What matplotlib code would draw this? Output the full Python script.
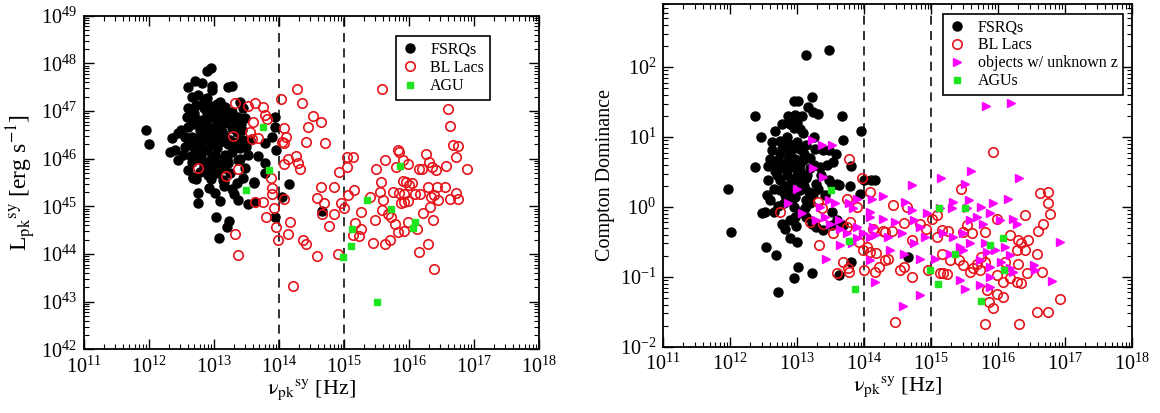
import numpy as np
import matplotlib
matplotlib.use("Agg")
import matplotlib.pyplot as plt
from matplotlib.ticker import FixedLocator, NullFormatter

plt.rcParams['font.family'] = 'serif'
plt.rcParams['font.serif'] = ['Liberation Serif', 'DejaVu Serif']
plt.rcParams['mathtext.fontset'] = 'stix'

# ---- data: (log10 nu_pk, log10 value) ----
# left panel: synchrotron peak luminosity
fsrq_lum = np.array([
    (12.95,47.90),(12.90,47.85),(12.60,47.50),(12.71,47.62),(12.81,47.59),(12.97,47.52),(12.97,47.45),
    (13.22,47.50),(13.28,47.52),(12.66,47.30),(12.76,47.34),(12.89,47.27),(13.09,47.20),(13.17,47.09),
    (13.40,47.20),(13.45,47.06),(12.73,47.13),(12.60,47.06),(12.84,47.06),(12.96,46.99),(13.07,46.95),
    (13.27,46.99),(13.37,46.88),(12.58,46.88),(12.71,46.85),(12.89,46.81),(13.04,46.78),(13.17,46.74),
    (13.48,46.85),(13.94,46.88),(13.94,46.67),(12.60,46.67),(12.78,46.60),(12.96,46.64),(13.12,46.57),
    (13.27,46.64),(13.43,46.60),(11.96,46.60),(12.00,46.30),(12.36,46.44),(12.45,46.53),(12.66,46.46),
    (12.86,46.43),(13.02,46.46),(13.17,46.39),(13.37,46.36),(13.78,46.32),(13.89,46.46),(12.40,46.18),
    (12.55,46.25),(12.53,46.08),(12.71,46.15),(12.89,46.18),(13.02,46.08),(13.17,46.08),(13.27,46.15),
    (13.40,46.22),(13.53,46.08),(13.67,46.06),(13.78,45.92),(12.32,46.15),(12.45,45.97),(12.66,45.94),
    (12.84,45.94),(12.94,45.83),(13.09,45.87),(13.22,45.90),(13.37,45.97),(12.60,45.76),(12.78,45.73),
    (12.91,45.66),(13.04,45.69),(12.68,45.62),(13.48,45.80),(13.61,45.48),(13.14,45.55),(13.78,45.69),
    (13.95,46.18),(12.68,45.60),(12.73,45.57),(12.96,45.57),(13.16,45.52),(13.16,45.43),(13.27,45.36),
    (13.35,45.48),(13.44,45.60),(12.92,45.39),(13.02,45.27),(12.76,45.27),(12.76,45.08),(13.09,45.11),
    (13.31,45.25),(13.37,45.13),(13.52,45.04),(13.62,45.52),(13.63,45.10),(13.03,44.78),(13.23,44.69),
    (13.20,44.57),(13.07,44.34),(13.94,44.78),(14.04,45.20),(14.16,45.46),(14.66,44.91),
    (12.70,46.95),(12.80,46.70),(12.90,46.95),(13.00,46.88),(13.10,46.70),(13.20,46.85),(12.75,46.40),
    (12.85,46.20),(12.95,46.30),(13.05,46.22),(13.15,46.50),(13.25,46.40),(13.30,46.25),(12.65,46.05),
    (12.75,46.00),(12.85,45.85),(12.95,46.00),(13.05,45.95),(13.15,45.80),(13.25,45.70),(12.90,46.60),
    (13.00,46.55),(13.10,46.35),(12.80,46.55),(12.70,46.25),(13.35,46.55),(13.45,46.40),(13.50,46.25),
    (12.55,46.45),(12.50,46.60),(13.00,47.00),(13.05,47.15),(12.95,47.10),(12.85,47.20),(13.15,46.95),
    (13.00,45.72),(12.88,45.72),(13.20,46.00),(13.33,46.70),(13.40,46.00),
    (12.62,46.35),(12.78,46.30),(12.92,46.40),(13.08,46.48),(13.22,46.30),(12.82,46.82),(13.12,46.82),
    (12.68,46.72),(13.30,46.85),(12.98,45.90),(13.12,46.00),(12.80,46.08),(13.42,46.72),(13.55,46.40),
])

bllac_lum = np.array([
    (13.32,47.16),(13.52,47.11),(13.63,47.17),(13.75,47.09),(13.78,46.92),(13.82,46.83),(13.60,46.78),
    (13.55,46.55),(13.59,46.41),(13.68,46.44),(13.30,46.48),(14.03,47.25),(14.07,46.65),(14.11,46.46),
    (14.04,46.34),(14.08,46.32),(12.76,45.80),(13.18,45.64),(13.37,45.78),(13.87,45.59),(14.14,46.00),
    (14.08,45.89),(13.90,45.39),(13.90,45.25),(13.76,45.10),(13.63,45.10),(13.92,44.96),(13.80,44.78),
    (13.95,44.57),(13.98,44.29),(13.32,44.41),(13.37,43.98),(14.08,45.15),(14.17,44.68),(14.14,44.41),
    (14.21,43.32),
    (14.28,47.46),(14.35,47.16),(14.53,46.90),(14.65,46.78),(14.45,46.66),(14.71,46.32),(14.42,46.36),
    (14.26,46.06),(14.29,45.92),(14.32,45.78),(14.92,45.73),(15.04,46.04),(15.14,46.04),(15.04,45.83),
    (15.59,47.46),(16.60,47.04),(16.63,46.69),(16.68,46.29),(16.75,46.27),(16.73,46.04),(16.57,45.85),
    (16.90,45.78),(15.83,46.18),(15.84,46.15),(15.63,45.97),(15.49,45.78),(15.80,45.82),(15.91,45.97),
    (15.99,45.88),(16.27,46.09),(16.31,45.94),(16.35,45.83),(16.42,45.76),(16.16,45.78),(16.20,45.78),
    (15.57,45.52),(15.91,45.53),(15.96,45.52),(16.00,45.45),(16.04,45.50),
    (14.65,45.40),(14.84,45.41),(14.58,45.17),(14.70,45.08),(14.66,44.85),(14.84,44.85),(14.77,44.59),
    (14.37,44.29),(14.42,44.22),(14.58,43.96),(14.91,44.01),(14.96,45.06),(15.00,44.96),(15.06,45.24),
    (15.16,45.34),(15.26,44.89),(15.17,44.66),(15.26,44.52),(15.23,44.38),(15.14,44.40),(15.47,44.71),
    (15.44,44.24),(15.40,45.19),(15.60,45.13),(15.58,44.92),(15.68,44.85),(15.73,44.77),(15.78,44.64),
    (15.83,44.47),(15.92,44.49),(15.63,44.22),(15.71,44.29),(15.76,45.31),(15.84,45.27),(15.93,45.26),
    (15.88,45.06),(15.93,45.10),(15.98,45.12),(16.09,45.26),(16.17,45.26),(16.30,45.40),(16.43,45.41),
    (16.34,45.20),(16.39,45.24),(16.45,45.13),(16.63,45.15),(16.76,45.15),(16.73,45.29),(16.56,45.40),
    (16.32,44.98),(16.21,44.87),(15.98,44.68),(16.13,44.52),(16.37,44.71),(16.29,44.22),(16.15,44.05),
    (16.39,43.68),(15.56,45.31),
])

agu_lum = np.array([
    (13.75,46.67),(13.85,45.76),(13.50,45.34),(15.35,45.13),(15.73,44.94),(15.86,45.85),
    (16.09,44.68),(16.07,44.54),(15.12,44.52),(15.11,44.16),(14.98,43.93),(15.51,43.00),
])

# right panel: Compton dominance
fsrq_cd = np.array([
    (13.13,2.17),(13.47,2.25),(13.23,1.57),(12.95,1.52),(13.01,1.52),(13.17,1.43),(13.24,1.36),
    (13.32,1.33),(12.37,1.30),(13.67,1.30),(12.87,1.30),(12.97,1.31),(13.07,1.30),(12.77,1.18),
    (12.90,1.19),(12.96,1.13),(12.67,1.09),(12.46,1.00),(13.04,1.11),(13.09,1.06),(13.96,1.08),
    (13.69,0.96),(12.62,0.93),(12.75,0.95),(12.87,0.91),(13.00,0.93),(13.04,0.83),(13.14,0.88),
    (13.27,0.83),(13.38,0.81),(13.48,0.81),(13.58,0.76),(12.62,0.81),(12.75,0.76),(12.90,0.79),
    (12.60,0.69),(12.72,0.67),(12.85,0.64),(12.97,0.69),(13.09,0.67),(12.37,0.57),(12.57,0.58),
    (12.67,0.52),(12.80,0.55),(12.92,0.57),(13.04,0.52),(13.19,0.55),(13.34,0.57),(13.44,0.60),
    (13.54,0.64),(13.80,0.58),(12.57,0.38),(12.75,0.38),(12.90,0.33),(13.04,0.36),(13.14,0.41),
    (13.29,0.33),(13.47,0.38),(13.59,0.33),(13.79,0.30),(11.97,0.26),
    (12.01,-0.36),(12.55,0.17),(12.60,0.10),(12.47,-0.09),(12.52,-0.07),(12.65,-0.07),(12.72,0.02),
    (12.82,0.17),(12.75,0.24),(12.87,0.24),(12.97,0.14),(13.04,0.24),(13.14,0.10),(13.24,0.19),
    (13.32,0.26),(13.42,0.17),(13.52,0.31),(13.62,0.31),(13.94,0.19),(12.77,-0.24),(12.82,-0.31),
    (12.90,-0.19),(12.97,-0.14),(13.04,-0.07),(13.14,-0.14),(13.22,-0.24),(13.29,-0.29),(13.39,-0.33),
    (13.52,-0.07),(13.52,-0.26),(13.59,-0.19),(13.69,-0.26),(12.90,-0.45),(13.00,-0.50),(12.54,-0.57),
    (12.69,-0.69),(13.01,-0.86),(13.22,-0.95),(12.96,-1.01),(12.71,-1.22),(13.80,-0.79),(13.63,-0.98),
    (14.00,0.38),(14.10,0.39),(14.17,0.39),(14.66,-0.72),
    (12.70,0.45),(12.85,0.45),(13.00,0.45),(13.15,0.45),(12.78,0.85),(12.95,0.85),(13.10,0.75),
    (13.20,0.70),(12.80,0.05),(12.95,0.00),(13.10,0.30),(13.20,0.05),(12.65,0.25),(13.35,0.45),
    (12.85,1.00),(13.25,1.00),(13.00,1.20),(12.92,0.12),(13.12,-0.02),(12.70,0.62),
    (12.80,0.30),(12.95,0.40),(13.25,0.60),(12.88,0.72),(13.05,0.62),(13.18,0.22),(12.98,-0.28),
])

bllac_cd = np.array([
    (13.78,0.69),(13.97,0.41),(13.32,0.07),(13.37,-0.02),(12.75,-0.07),(13.19,-0.21),(13.39,-0.24),
    (13.54,-0.38),(13.33,-0.54),(13.74,-0.29),(13.79,-0.21),(13.74,0.12),(13.89,0.00),(13.92,-0.50),
    (13.99,-0.62),(14.04,-0.57),(13.69,-0.79),(13.76,-0.88),(13.78,-0.93),(13.60,-0.94),(14.00,-0.90),
    (14.09,0.21),(14.16,-0.93),
    (15.93,0.78),(15.44,0.25),(16.63,0.20),(16.75,0.22),(16.74,0.06),(14.43,0.03),(14.64,0.00),
    (14.59,-0.23),(14.84,-0.24),(14.93,-0.31),(14.14,-0.31),(14.28,-0.34),(14.31,-0.36),(14.41,-0.34),
    (14.09,-0.64),(14.18,-0.66),(14.31,-0.76),(14.36,-0.74),(14.71,-0.47),(14.54,-0.90),(14.59,-0.86),
    (14.22,-0.86),(14.71,-1.00),(14.46,-1.64),(14.96,-0.90),(15.13,-0.95),(15.18,-0.95),(15.24,-0.96),
    (15.01,-0.17),(15.09,-0.12),(15.16,-0.33),(15.26,-0.34),(15.09,-0.43),(15.16,-0.67),(15.28,-0.76),
    (15.41,-0.76),(15.48,-0.83),(15.58,-0.93),(15.63,-0.88),(15.68,-0.81),(15.75,-0.72),(15.80,-0.79),
    (15.73,-0.90),(15.53,-0.26),(15.61,-0.38),(15.48,-0.36),(15.80,-0.36),(15.98,-0.17),(16.40,-0.12),
    (16.67,-0.25),(16.60,-0.34),(16.77,-0.10),(16.18,-0.40),(16.30,-0.48),(16.35,-0.52),(16.40,-0.62),
    (16.28,-0.62),(16.45,-0.48),(16.10,-0.79),(16.30,-0.81),(16.58,-0.67),(16.65,-0.93),(16.43,-0.95),
    (15.98,-0.98),(16.08,-1.07),(16.28,-1.07),(16.35,-1.09),(16.18,-1.02),(15.83,-1.19),(15.98,-1.25),
    (16.08,-1.29),(15.86,-1.36),(15.93,-1.45),(16.58,-1.51),(16.75,-1.51),(16.93,-1.32),(15.81,-1.67),
    (16.31,-1.67),
])

unknown_cd = np.array([
    (13.22,0.96),(13.37,0.89),(13.52,0.89),(13.24,0.55),(13.39,0.43),(13.00,0.26),
    (12.87,0.05),(13.07,-0.09),(13.34,0.00),(13.47,0.10),(13.57,0.05),(13.29,-0.19),(13.42,-0.14),
    (13.49,-0.24),(13.62,-0.18),(13.64,-0.31),(13.74,-0.38),(13.89,-0.29),(13.64,-0.55),(13.82,-0.52),
    (13.89,-0.45),(13.99,-0.38),(14.09,-0.43),(14.14,-0.29),(14.09,-0.07),(13.84,-0.02),(13.77,0.05),
    (13.89,0.12),(13.43,-0.75),(14.09,-0.76),
    (15.82,1.44),(16.19,1.48),(14.71,0.31),(15.15,0.41),(15.60,0.51),(15.50,0.33),(16.32,0.41),
    (14.29,0.15),(14.12,0.12),(14.61,0.07),(15.33,0.07),(15.57,0.10),(15.92,0.05),(16.15,0.11),
    (15.75,0.00),(15.31,-0.02),(15.13,-0.02),
    (14.71,-0.05),(14.94,-0.09),(15.53,-0.02),(14.09,-0.14),(14.29,-0.17),(14.46,-0.21),(14.74,-0.19),
    (14.84,-0.29),(14.16,-0.40),(14.36,-0.43),(14.56,-0.38),(14.74,-0.52),(14.91,-0.43),(14.39,-0.62),
    (14.59,-0.67),(14.84,-0.74),(15.06,-0.74),(15.28,-0.67),(15.43,-0.57),(15.58,-0.52),(15.48,-0.62),
    (15.18,-0.38),(15.33,-0.43),(15.48,-0.38),(15.58,-0.19),(15.68,-0.14),(15.78,-0.24),(15.88,-0.09),
    (16.03,-0.19),(16.23,-0.17),(16.28,-0.24),(15.80,-0.52),(15.96,-0.62),(16.10,-0.57),(16.18,-0.69),
    (15.83,-0.64),(15.73,-0.76),(15.88,-0.86),(16.05,-0.79),(15.43,-1.05),(15.51,-1.17),(15.73,-1.12),
    (15.88,-1.00),(16.18,-0.88),(16.23,-0.93),(15.88,-1.14),(14.16,-1.07),(14.83,-1.26),(14.58,-1.42),
    (16.53,-0.83),(16.55,-0.90),(16.80,-1.06),(16.92,-0.50),
])

agu_cd = np.array([
    (13.51,0.24),(13.77,-0.49),(13.86,-1.18),(15.12,-0.02),(15.51,-0.02),(14.99,-0.90),
    (15.11,-1.10),(15.36,-0.67),(15.88,-0.54),(16.07,-0.44),(16.09,-0.90),(15.75,-1.35),
])

# synchrotron peak boundaries (LSP / ISP / HSP)
nu_bounds = [1e14, 1e15]

RED = '#e8141b'
GREEN = '#1ee61e'
MAGENTA = '#ff00ff'


def pts(arr):
    return 10 ** arr[:, 0], 10 ** arr[:, 1]


def log_ticks(axis, lo, hi):
    # major ticks at each decade inside the range, minor at 2..9
    decs = np.arange(lo, hi + 1)
    axis.set_major_locator(FixedLocator(10.0 ** decs))
    minors = [m * 10.0 ** d for d in range(lo, hi) for m in range(2, 10)]
    axis.set_minor_locator(FixedLocator(minors))
    axis.set_minor_formatter(NullFormatter())


def style_axis(ax, ylo, yhi):
    ax.set_xscale('log')
    ax.set_yscale('log')
    log_ticks(ax.xaxis, 11, 18)
    log_ticks(ax.yaxis, ylo, yhi)
    ax.tick_params(which='both', direction='in', top=True, right=True)
    ax.tick_params(which='major', length=7, width=1.0, labelsize=14.5, pad=5)
    ax.tick_params(which='minor', length=3.5, width=0.8)
    for s in ax.spines.values():
        s.set_linewidth(1.3)
    for nu in nu_bounds:
        ax.axvline(nu, color='#222222', lw=1.3, ls=(0, (5, 3.5)), zorder=1)
    ax.set_xlabel(r'$\mathrm{\nu}_{\rm pk}$$^{\rm sy}$ [Hz]', fontsize=16, labelpad=0)


fig = plt.figure(figsize=(11.6, 4.13), dpi=100)
ax1 = fig.add_axes([0.0724, 0.1542, 0.3922, 0.8077])
ax2 = fig.add_axes([0.5716, 0.1605, 0.4043, 0.8298])

mk = dict(linestyle='none', zorder=3)

# left panel
x, y = pts(fsrq_lum)
ax1.plot(x, y, 'o', color='black', ms=6.5, label='FSRQs', **mk)
x, y = pts(bllac_lum)
ax1.plot(x, y, 'o', mfc='none', mec=RED, mew=1.2, ms=6.8, label='BL Lacs', **mk)
x, y = pts(agu_lum)
ax1.plot(x, y, 's', color=GREEN, ms=5, label='AGU', **mk)
style_axis(ax1, 42, 49)
ax1.set_xlim(1e11, 1e18)
ax1.set_ylim(1e42, 1e49)
ax1.set_ylabel(r'L$_{\rm pk}$$^{\rm sy}$ [erg s$^{-1}$]', fontsize=17, labelpad=2)
leg1 = ax1.legend(loc='upper right', bbox_to_anchor=(0.892, 0.939), borderaxespad=0,
                  fontsize=11.5, frameon=True, fancybox=False, framealpha=1,
                  handlelength=1.0, handletextpad=0.8, labelspacing=0.15, borderpad=0.35)
leg1.get_frame().set_edgecolor('black')
leg1.get_frame().set_linewidth(1.2)

# right panel
x, y = pts(fsrq_cd)
ax2.plot(x, y, 'o', color='black', ms=6.5, label='FSRQs', **mk)
x, y = pts(bllac_cd)
ax2.plot(x, y, 'o', mfc='none', mec=RED, mew=1.2, ms=6.8, label='BL Lacs', **mk)
x, y = pts(unknown_cd)
ax2.plot(x, y, '>', color=MAGENTA, ms=6, label='objects w/ unknown z', **mk)
x, y = pts(agu_cd)
ax2.plot(x, y, 's', color=GREEN, ms=5, label='AGUs', **mk)
style_axis(ax2, -2, 2)
ax2.yaxis.set_minor_locator(FixedLocator([m * 10.0 ** d for d in range(-2, 3) for m in range(2, 10)]))
ax2.set_xlim(1e11, 1e18)
ax2.set_ylim(1e-2, 800)
ax2.set_ylabel('Compton Dominance', fontsize=14.5, labelpad=3)
leg2 = ax2.legend(loc='upper right', bbox_to_anchor=(0.981, 0.971), borderaxespad=0,
                  fontsize=11.5, frameon=True, fancybox=False, framealpha=1,
                  handlelength=1.0, handletextpad=0.8, labelspacing=0.12, borderpad=0.35)
leg2.get_frame().set_edgecolor('black')
leg2.get_frame().set_linewidth(1.2)

fig.savefig('out.png', dpi=100)
